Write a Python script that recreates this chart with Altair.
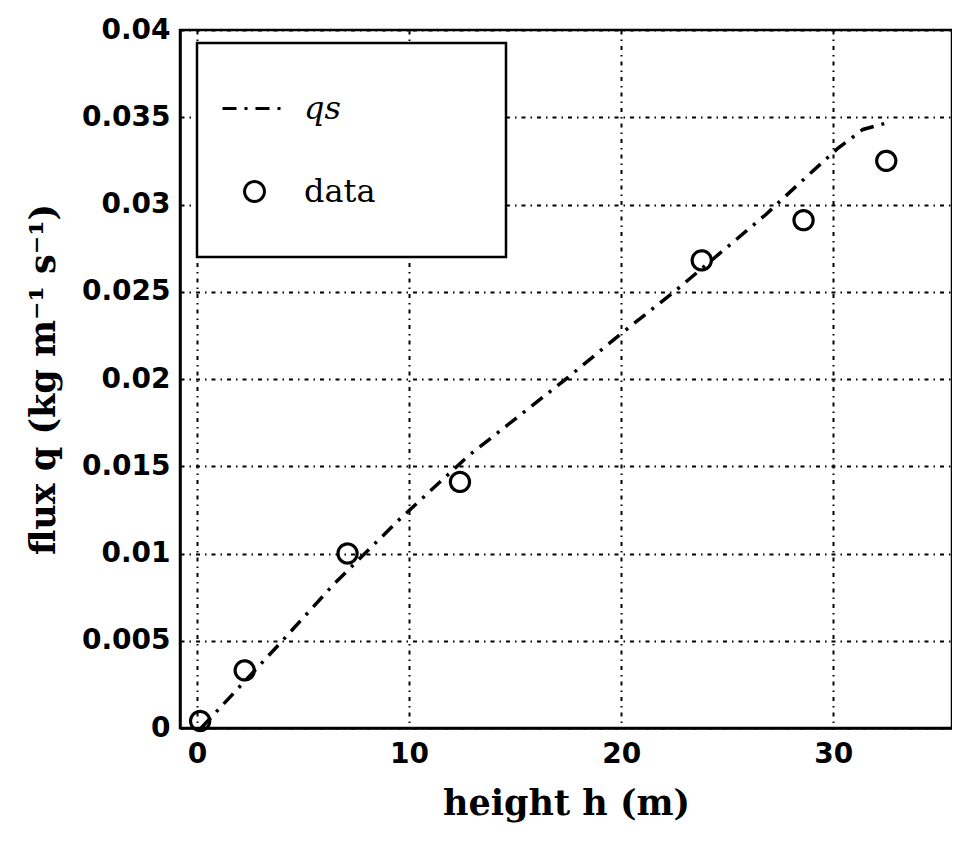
import altair as alt
import pandas as pd

# ---- data ----
qs_h = [0.2, 3.8, 6.5, 9.5, 12.8, 17.4, 20.0, 22.6, 26.8, 28.3, 30.2, 31.4, 32.6]
qs_q = [0.0, 0.0047, 0.0083, 0.0119, 0.0156, 0.0200, 0.0226, 0.0251, 0.0294, 0.0311, 0.0332, 0.0343, 0.0347]

data_h = [0.15, 2.25, 7.1, 12.4, 23.8, 28.6, 32.5]
data_q = [0.0004, 0.0033, 0.0100, 0.0141, 0.0268, 0.0291, 0.0325]

series_names = ["qs", "data"]
x_ticks = [0, 10, 20, 30]
y_ticks = [0, 0.005, 0.01, 0.015, 0.02, 0.025, 0.03, 0.035, 0.04]
x_title = "height h (m)"
y_title = "flux q (kg m\u207b\u00b9 s\u207b\u00b9)"

# ---- styles ----
qs_dash = [14, 8, 3, 8]
line_path = "M-1,0H1"
circle_path = "M0.31,0A0.31,0.31,0,1,1,-0.31,0A0.31,0.31,0,1,1,0.31,0Z"

qs_df = pd.DataFrame({"h": qs_h, "q": qs_q, "series": "qs"})
pt_df = pd.DataFrame({"h": data_h, "q": data_q, "series": "data"})

x_enc = alt.X(
    "h:Q",
    scale=alt.Scale(domain=[-0.8, 35.6], nice=False, zero=False),
    axis=alt.Axis(values=x_ticks, title=x_title, labelPadding=12, titlePadding=18),
)
y_enc = alt.Y(
    "q:Q",
    scale=alt.Scale(domain=[0, 0.04], nice=False),
    axis=alt.Axis(values=y_ticks, format="~g", title=y_title, labelPadding=10, titlePadding=20),
)

# invisible (white) legend title used only to give the legend box its width
leg = alt.Legend(
    title="x" * 12,
    titleColor="white",
    titleFont="DejaVu Sans Mono",
    titleFontSize=14,
    titlePadding=4,
    titleLimit=1000,
    titleOrient="right",
    orient="none",
    legendX=17,
    legendY=13,
    padding=24,
    rowPadding=0,
    clipHeight=83,
    symbolSize=4096,
    symbolStrokeWidth=3,
    symbolStrokeColor="black",
    symbolFillColor="white",
    labelFont="DejaVu Serif",
    labelFontSize=32,
    labelColor="black",
    labelOffset=16,
    labelLimit=400,
    labelFontStyle={"expr": "datum.label == 'qs' ? 'italic' : 'normal'"},
    fillColor="white",
    strokeColor="black",
)

line = alt.Chart(qs_df).mark_line(
    color="black", strokeWidth=3.5, strokeDash=qs_dash
).encode(x=x_enc, y=y_enc)

points = alt.Chart(pt_df).mark_point(
    filled=False, color="black", strokeWidth=3.2, size=3800, opacity=1
).encode(
    x=x_enc,
    y=y_enc,
    shape=alt.Shape(
        "series:N",
        scale=alt.Scale(domain=series_names, range=[line_path, circle_path]),
        legend=leg,
    ),
    strokeDash=alt.StrokeDash(
        "series:N",
        scale=alt.Scale(domain=series_names, range=[qs_dash, [1, 0]]),
        legend=leg,
    ),
)

chart = (
    alt.layer(line, points)
    .properties(
        width=772,
        height=698,
        autosize=alt.AutoSizeParams(type="none"),
        padding={"left": 172, "top": 22, "right": 0, "bottom": 103},
        background="white",
    )
    .configure_view(stroke="black", strokeWidth=2.5)
    .configure_axis(
        domainColor="black",
        domainWidth=2.5,
        grid=True,
        gridColor="black",
        gridDash=[4, 5, 1.5, 5],
        gridWidth=2,
        gridOpacity=1,
        ticks=False,
        labelFont="DejaVu Sans",
        labelFontWeight="bold",
        labelFontSize=28,
        labelColor="black",
        titleFont="DejaVu Serif",
        titleFontWeight="bold",
        titleFontSize=35,
        titleColor="black",
    )
    .configure_legend(strokeWidth=2.5)
)

chart.save("out.html", embed_options={"renderer": "svg", "actions": False})
